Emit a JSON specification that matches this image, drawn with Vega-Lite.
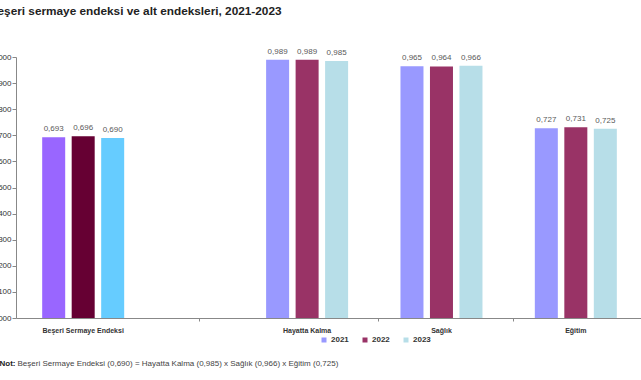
{
  "$schema": "https://vega.github.io/schema/vega-lite/v6.json",
  "autosize": {"type": "none"},
  "width": 627,
  "height": 261,
  "padding": {"left": 16, "top": 57, "right": 0, "bottom": 62},
  "background": "white",
  "title": {
    "text": "Beşeri sermaye endeksi ve alt endeksleri, 2021-2023",
    "anchor": "start",
    "frame": "group",
    "dx": -27,
    "offset": 30,
    "font": "Liberation Sans",
    "fontSize": 11.8,
    "fontWeight": "bold",
    "color": "#222222"
  },
  "config": {
    "locale": {"number": {"decimal": ",", "thousands": ".", "grouping": [3], "currency": ["", " TL"]}},
    "view": {"stroke": null},
    "font": "Liberation Sans"
  },
  "data": {
    "values": [
      {"kategori": "Beşeri Sermaye Endeksi", "yil": "2021", "seri": "BSE 2021", "deger": 0.693},
      {"kategori": "Beşeri Sermaye Endeksi", "yil": "2022", "seri": "BSE 2022", "deger": 0.696},
      {"kategori": "Beşeri Sermaye Endeksi", "yil": "2023", "seri": "BSE 2023", "deger": 0.690},
      {"kategori": "Hayatta Kalma", "yil": "2021", "seri": "2021", "deger": 0.989},
      {"kategori": "Hayatta Kalma", "yil": "2022", "seri": "2022", "deger": 0.989},
      {"kategori": "Hayatta Kalma", "yil": "2023", "seri": "2023", "deger": 0.985},
      {"kategori": "Sağlık", "yil": "2021", "seri": "2021", "deger": 0.965},
      {"kategori": "Sağlık", "yil": "2022", "seri": "2022", "deger": 0.964},
      {"kategori": "Sağlık", "yil": "2023", "seri": "2023", "deger": 0.966},
      {"kategori": "Eğitim", "yil": "2021", "seri": "2021", "deger": 0.727},
      {"kategori": "Eğitim", "yil": "2022", "seri": "2022", "deger": 0.731},
      {"kategori": "Eğitim", "yil": "2023", "seri": "2023", "deger": 0.725}
    ]
  },
  "encoding": {
    "x": {
      "field": "kategori",
      "type": "nominal",
      "sort": null,
      "scale": {
        "domain": ["Beşeri Sermaye Endeksi", "b1", "b2", "b3", "b4", "Hayatta Kalma", "b6", "b7", "Sağlık", "b9", "b10", "Eğitim"],
        "paddingInner": 0,
        "paddingOuter": 1
      }
    },
    "xOffset": {
      "field": "yil",
      "type": "nominal",
      "scale": {"range": [-18.6, 63.4], "paddingInner": 0.22, "paddingOuter": 0}
    },
    "y": {
      "field": "deger",
      "type": "quantitative",
      "scale": {"domain": [0, 1], "nice": false},
      "axis": {
        "title": null,
        "values": [0, 0.1, 0.2, 0.3, 0.4, 0.5, 0.6, 0.7, 0.8, 0.9, 1],
        "format": ".3f",
        "grid": false,
        "tickSize": 4,
        "tickColor": "#888888",
        "domainColor": "#888888",
        "labelFontSize": 8,
        "labelColor": "#333333",
        "labelPadding": 1
      }
    }
  },
  "layer": [
    {
      "mark": {"type": "bar"},
      "encoding": {
        "x": {
          "field": "kategori",
          "type": "nominal",
          "sort": null,
          "axis": {
            "orient": "bottom",
            "values": ["b3", "b7", "b10"],
            "bandPosition": 0.1,
            "labels": false,
            "tickSize": 3,
            "tickColor": "#888888",
            "domainColor": "#888888",
            "title": "Not:",
            "titleFont": "Liberation Sans",
            "titleFontSize": 8,
            "titleFontWeight": "bold",
            "titleColor": "#222222",
            "titleAnchor": "start",
            "titleAlign": "left",
            "titleBaseline": "middle",
            "titleX": -17,
            "titleY": 45
          }
        },
        "color": {
          "field": "seri",
          "type": "nominal",
          "scale": {
            "domain": ["2021", "2022", "2023", "BSE 2021", "BSE 2022", "BSE 2023"],
            "range": ["#9999FF", "#993366", "#B7DEE8", "#9966FF", "#660033", "#66CCFF"]
          },
          "legend": {
            "values": ["2021", "2022", "2023"],
            "title": null,
            "orient": "none",
            "direction": "horizontal",
            "legendX": 304,
            "legendY": 279,
            "symbolType": "square",
            "symbolSize": 25,
            "symbolStrokeWidth": 0,
            "labelFont": "Liberation Sans",
            "labelFontSize": 8,
            "labelFontWeight": "bold",
            "labelColor": "#333333",
            "columnPadding": 12,
            "labelOffset": 3
          }
        }
      }
    },
    {
      "mark": {
        "type": "text",
        "baseline": "bottom",
        "dy": -4,
        "fontSize": 8,
        "color": "#595959"
      },
      "encoding": {
        "x": {
          "field": "kategori",
          "type": "nominal",
          "sort": null,
          "axis": {
            "orient": "bottom",
            "values": ["Beşeri Sermaye Endeksi", "Hayatta Kalma", "Sağlık", "Eğitim"],
            "domain": false,
            "ticks": false,
            "labelAngle": 0,
            "labelFont": "Liberation Sans",
            "labelFontSize": 7,
            "labelFontWeight": "bold",
            "labelColor": "#333333",
            "labelPadding": 8,
            "title": "Beşeri Sermaye Endeksi (0,690) = Hayatta Kalma (0,985) x Sağlık (0,966) x Eğitim (0,725)",
            "titleFont": "Liberation Sans",
            "titleFontSize": 8,
            "titleFontWeight": "normal",
            "titleColor": "#444444",
            "titleAnchor": "start",
            "titleAlign": "left",
            "titleBaseline": "middle",
            "titleX": 1,
            "titleY": 45
          }
        },
        "text": {"field": "deger", "type": "quantitative", "format": ".3f"}
      }
    }
  ],
  "resolve": {"axis": {"x": "independent"}}
}
